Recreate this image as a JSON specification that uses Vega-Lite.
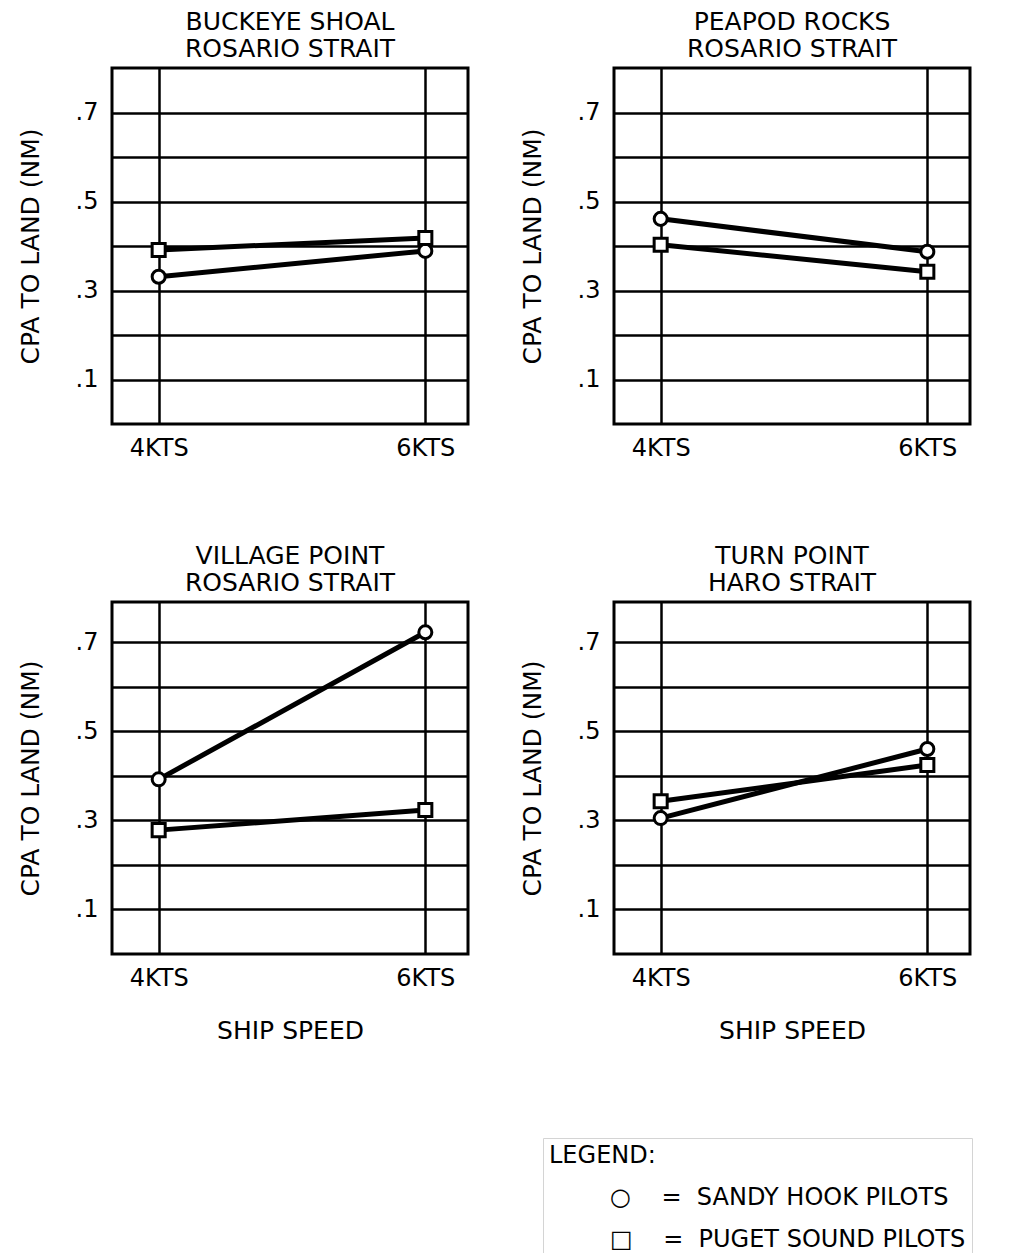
{
  "$schema": "https://vega.github.io/schema/vega-lite/v6.json",
  "background": "white",
  "padding": {"left": 16, "top": 8, "right": 5, "bottom": 0},
  "datasets": {
    "cpa": [
      {"site": "BUCKEYE SHOAL", "pilot": "SANDY HOOK PILOTS", "speed": 4, "cpa": 0.331},
      {"site": "BUCKEYE SHOAL", "pilot": "SANDY HOOK PILOTS", "speed": 6, "cpa": 0.389},
      {"site": "BUCKEYE SHOAL", "pilot": "PUGET SOUND PILOTS", "speed": 4, "cpa": 0.391},
      {"site": "BUCKEYE SHOAL", "pilot": "PUGET SOUND PILOTS", "speed": 6, "cpa": 0.418},
      {"site": "PEAPOD ROCKS", "pilot": "SANDY HOOK PILOTS", "speed": 4, "cpa": 0.461},
      {"site": "PEAPOD ROCKS", "pilot": "SANDY HOOK PILOTS", "speed": 6, "cpa": 0.387},
      {"site": "PEAPOD ROCKS", "pilot": "PUGET SOUND PILOTS", "speed": 4, "cpa": 0.403},
      {"site": "PEAPOD ROCKS", "pilot": "PUGET SOUND PILOTS", "speed": 6, "cpa": 0.342},
      {"site": "VILLAGE POINT", "pilot": "SANDY HOOK PILOTS", "speed": 4, "cpa": 0.392},
      {"site": "VILLAGE POINT", "pilot": "SANDY HOOK PILOTS", "speed": 6, "cpa": 0.722},
      {"site": "VILLAGE POINT", "pilot": "PUGET SOUND PILOTS", "speed": 4, "cpa": 0.278},
      {"site": "VILLAGE POINT", "pilot": "PUGET SOUND PILOTS", "speed": 6, "cpa": 0.323},
      {"site": "TURN POINT", "pilot": "SANDY HOOK PILOTS", "speed": 4, "cpa": 0.305},
      {"site": "TURN POINT", "pilot": "SANDY HOOK PILOTS", "speed": 6, "cpa": 0.46},
      {"site": "TURN POINT", "pilot": "PUGET SOUND PILOTS", "speed": 4, "cpa": 0.343},
      {"site": "TURN POINT", "pilot": "PUGET SOUND PILOTS", "speed": 6, "cpa": 0.424}
    ]
  },
  "data": {"name": "cpa"},
  "columns": 2,
  "spacing": {"row": 80, "column": 48},
  "concat": [
    {
      "width": 356, "height": 356,
      "title": {"text": ["BUCKEYE SHOAL", "ROSARIO STRAIT"]},
      "transform": [{"filter": "datum.site === 'BUCKEYE SHOAL'"}],
      "encoding": {
        "x": {"field": "speed", "type": "quantitative", "scale": {"domain": [3.65, 6.32], "nice": false, "zero": false}, "axis": {"values": [4, 6], "labelExpr": "datum.value + 'KTS'", "title": null}},
        "y": {"field": "cpa", "type": "quantitative", "scale": {"domain": [0, 0.8], "nice": false}, "axis": {"values": [0.1, 0.2, 0.3, 0.4, 0.5, 0.6, 0.7], "labelExpr": "round(datum.value*10) % 2 == 1 ? replace(format(datum.value, '.1f'), '0.', '.') : ''", "title": "CPA TO LAND (NM)"}}
      },
      "layer": [
        {"mark": {"type": "line", "strokeWidth": 5, "color": "black"}, "encoding": {"detail": {"field": "pilot"}}},
        {"mark": {"type": "point", "filled": true, "fill": "white", "stroke": "black", "strokeWidth": 3, "size": 170, "opacity": 1},
         "encoding": {"shape": {"field": "pilot", "type": "nominal", "scale": {"domain": ["SANDY HOOK PILOTS", "PUGET SOUND PILOTS"], "range": ["circle", "square"]},
           "legend": {"orient": "none", "legendX": 431, "legendY": 1070, "title": "LEGEND:", "labelExpr": "(datum.label == 'SANDY HOOK PILOTS' ? '○' : '□') + '\u00a0\u00a0\u00a0\u00a0=\u00a0\u00a0' + datum.label", "labelOffset": 37}}}}
      ]
    },
    {
      "width": 356, "height": 356,
      "title": {"text": ["PEAPOD ROCKS", "ROSARIO STRAIT"]},
      "transform": [{"filter": "datum.site === 'PEAPOD ROCKS'"}],
      "encoding": {
        "x": {"field": "speed", "type": "quantitative", "scale": {"domain": [3.65, 6.32], "nice": false, "zero": false}, "axis": {"values": [4, 6], "labelExpr": "datum.value + 'KTS'", "title": null}},
        "y": {"field": "cpa", "type": "quantitative", "scale": {"domain": [0, 0.8], "nice": false}, "axis": {"values": [0.1, 0.2, 0.3, 0.4, 0.5, 0.6, 0.7], "labelExpr": "round(datum.value*10) % 2 == 1 ? replace(format(datum.value, '.1f'), '0.', '.') : ''", "title": "CPA TO LAND (NM)"}}
      },
      "layer": [
        {"mark": {"type": "line", "strokeWidth": 5, "color": "black"}, "encoding": {"detail": {"field": "pilot"}}},
        {"mark": {"type": "point", "filled": true, "fill": "white", "stroke": "black", "strokeWidth": 3, "size": 170, "opacity": 1},
         "encoding": {"shape": {"field": "pilot", "type": "nominal", "scale": {"domain": ["SANDY HOOK PILOTS", "PUGET SOUND PILOTS"], "range": ["circle", "square"]},
           "legend": {"orient": "none", "legendX": 431, "legendY": 1070, "title": "LEGEND:", "labelExpr": "(datum.label == 'SANDY HOOK PILOTS' ? '○' : '□') + '\u00a0\u00a0\u00a0\u00a0=\u00a0\u00a0' + datum.label", "labelOffset": 37}}}}
      ]
    },
    {
      "width": 356, "height": 352,
      "title": {"text": ["VILLAGE POINT", "ROSARIO STRAIT"]},
      "transform": [{"filter": "datum.site === 'VILLAGE POINT'"}],
      "encoding": {
        "x": {"field": "speed", "type": "quantitative", "scale": {"domain": [3.65, 6.32], "nice": false, "zero": false}, "axis": {"values": [4, 6], "labelExpr": "datum.value + 'KTS'", "title": "SHIP SPEED"}},
        "y": {"field": "cpa", "type": "quantitative", "scale": {"domain": [0, 0.79], "nice": false}, "axis": {"values": [0.1, 0.2, 0.3, 0.4, 0.5, 0.6, 0.7], "labelExpr": "round(datum.value*10) % 2 == 1 ? replace(format(datum.value, '.1f'), '0.', '.') : ''", "title": "CPA TO LAND (NM)"}}
      },
      "layer": [
        {"mark": {"type": "line", "strokeWidth": 5, "color": "black"}, "encoding": {"detail": {"field": "pilot"}}},
        {"mark": {"type": "point", "filled": true, "fill": "white", "stroke": "black", "strokeWidth": 3, "size": 170, "opacity": 1},
         "encoding": {"shape": {"field": "pilot", "type": "nominal", "scale": {"domain": ["SANDY HOOK PILOTS", "PUGET SOUND PILOTS"], "range": ["circle", "square"]},
           "legend": {"orient": "none", "legendX": 431, "legendY": 1070, "title": "LEGEND:", "labelExpr": "(datum.label == 'SANDY HOOK PILOTS' ? '○' : '□') + '\u00a0\u00a0\u00a0\u00a0=\u00a0\u00a0' + datum.label", "labelOffset": 37}}}}
      ]
    },
    {
      "width": 356, "height": 352,
      "title": {"text": ["TURN POINT", "HARO STRAIT"]},
      "transform": [{"filter": "datum.site === 'TURN POINT'"}],
      "encoding": {
        "x": {"field": "speed", "type": "quantitative", "scale": {"domain": [3.65, 6.32], "nice": false, "zero": false}, "axis": {"values": [4, 6], "labelExpr": "datum.value + 'KTS'", "title": "SHIP SPEED"}},
        "y": {"field": "cpa", "type": "quantitative", "scale": {"domain": [0, 0.79], "nice": false}, "axis": {"values": [0.1, 0.2, 0.3, 0.4, 0.5, 0.6, 0.7], "labelExpr": "round(datum.value*10) % 2 == 1 ? replace(format(datum.value, '.1f'), '0.', '.') : ''", "title": "CPA TO LAND (NM)"}}
      },
      "layer": [
        {"mark": {"type": "line", "strokeWidth": 5, "color": "black"}, "encoding": {"detail": {"field": "pilot"}}},
        {"mark": {"type": "point", "filled": true, "fill": "white", "stroke": "black", "strokeWidth": 3, "size": 170, "opacity": 1},
         "encoding": {"shape": {"field": "pilot", "type": "nominal", "scale": {"domain": ["SANDY HOOK PILOTS", "PUGET SOUND PILOTS"], "range": ["circle", "square"]},
           "legend": {"orient": "none", "legendX": 431, "legendY": 1070, "title": "LEGEND:", "labelExpr": "(datum.label == 'SANDY HOOK PILOTS' ? '○' : '□') + '\u00a0\u00a0\u00a0\u00a0=\u00a0\u00a0' + datum.label", "labelOffset": 37}}}}
      ]
    }
  ],
  "config": {
    "font": "DejaVu Sans",
    "view": {"stroke": "black", "strokeWidth": 3},
    "title": {"font": "DejaVu Sans", "fontSize": 25, "fontWeight": "normal", "color": "black", "lineHeight": 27, "offset": 6, "anchor": "middle"},
    "axis": {"domain": false, "ticks": false, "grid": true, "gridColor": "black", "gridWidth": 2.5, "gridOpacity": 1, "labelFont": "DejaVu Sans", "labelFontSize": 24, "labelColor": "black", "labelFlush": false, "labelOverlap": false, "titleFont": "DejaVu Sans", "titleFontSize": 25, "titleFontWeight": "normal", "titleColor": "black"},
    "axisY": {"labelPadding": 14, "titlePadding": 32},
    "axisX": {"labelPadding": 12, "titlePadding": 28},
    "legend": {"titleFont": "DejaVu Sans", "titleFontSize": 24, "titleFontWeight": "normal", "titleColor": "black", "titlePadding": 18, "labelFont": "DejaVu Sans", "labelFontSize": 24, "labelColor": "black", "labelLimit": 500, "symbolSize": 110, "symbolOpacity": 0, "rowPadding": 18, "strokeColor": "#d4d4d4", "padding": 6}
  }
}
